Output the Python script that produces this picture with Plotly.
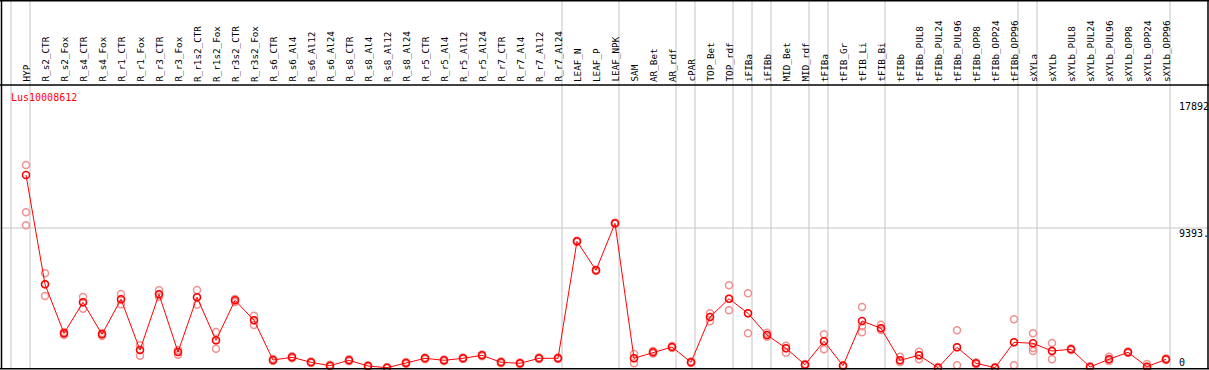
import plotly.graph_objects as go

title_text = "Lus10008612"

categories = [
    "HYP", "R_s2_CTR", "R_s2_Fox", "R_s4_CTR", "R_s4_Fox", "R_r1_CTR", "R_r1_Fox",
    "R_r3_CTR", "R_r3_Fox", "R_r1s2_CTR", "R_r1s2_Fox", "R_r3s2_CTR", "R_r3s2_Fox",
    "R_s6_CTR", "R_s6_Al4", "R_s6_Al12", "R_s6_Al24", "R_s8_CTR", "R_s8_Al4",
    "R_s8_Al12", "R_s8_Al24", "R_r5_CTR", "R_r5_Al4", "R_r5_Al12", "R_r5_Al24",
    "R_r7_CTR", "R_r7_Al4", "R_r7_Al12", "R_r7_Al24", "LEAF_N", "LEAF_P", "LEAF_NPK",
    "SAM", "AR_Bet", "AR_rdf", "cPAR", "TOP_Bet", "TOP_rdf", "iFIBa", "iFIBb",
    "MID_Bet", "MID_rdf", "tFIBa", "tFIB_Gr", "tFIB_Li", "tFIB_Bi", "tFIBb",
    "tFIBb_PUL8", "tFIBb_PUL24", "tFIBb_PUL96", "tFIBb_OPP8", "tFIBb_OPP24", "tFIBb_OPP96",
    "sXYLa", "sXYLb", "sXYLb_PUL8", "sXYLb_PUL24", "sXYLb_PUL96", "sXYLb_OPP8",
    "sXYLb_OPP24", "sXYLb_OPP96",
]

mean_values = [
    12948, 5615, 2328, 4408, 2261, 4609, 1208, 4944, 1073, 4743, 1858, 4542, 3200,
    537, 718, 382, 154, 517, 134, 20, 335, 651, 517, 651, 852, 382, 315, 651, 651,
    8500, 6555, 9708,
    651, 1053, 1409, 382, 3422, 4649, 3670, 2214, 1322, 221,
    1791, 154, 3153, 2663, 517,
    852, 20, 1389, 315, 20, 1724,
    1657, 1141, 1255, 67, 584, 1053, 87, 584,
]

rep1 = [
    13619, 6353, 2415, 4763, 2348, 4965, 1523, 5213, 1208, 5233, 2415, 4629, 3509,
    600, 780, 440, 210, 580, 190, 60, 400, 710, 570, 700, 910, 440, 370, 700, 700,
    8540, 6600, 9750,
    939, 1141, 1476, 430, 3670, 5548, 5012, 2368, 1496, 270,
    2261, 200, 4092, 2905, 758,
    1094, 60, 2529, 370, 60, 3267,
    2328, 1677, 1300, 110, 758, 1100, 268, 640,
]
rep2 = [
    10446, 5615, 2281, 4408, 2261, 4609, 1208, 4944, 1073, 4743, 1858, 4542, 3200,
    537, 718, 382, 154, 517, 134, 20, 335, 651, 517, 651, 852, 382, 315, 651, 651,
    8500, 6555, 9708,
    651, 1053, 1409, 382, 3422, 4649, 3670, 2214, 1322, 221,
    1791, 154, 2798, 2663, 517,
    852, 20, 1389, 315, 20, 1724,
    1342, 1141, 1255, 67, 584, 1053, 87, 584,
]
rep3 = [
    9574, 4830, 2214, 3978, 2147, 4274, 825, 4784, 892, 4247, 1295, 4428, 2885,
    470, 650, 330, 100, 460, 80, 0, 270, 590, 460, 600, 790, 320, 260, 600, 600,
    8460, 6510, 9660,
    315, 973, 1342, 340, 3133, 3871, 2328, 2100, 1026, 180,
    1255, 110, 2395, 2549, 403,
    584, 0, 181, 260, 0, 181,
    1141, 584, 1210, 30, 470, 1000, 0, 530,
]

# group separators drawn after these category indices
separator_after = [-1, 0, 28, 31, 34, 35, 37, 38, 39, 41, 42, 45, 52, 53, 60]
grid_value = 9393
right_labels = [("17892", 17892), ("9393.", 9393), ("0", 0)]

W, H = 1209, 370
X0_PX, STEP_PX = 26, 19          # pixel of first category, spacing
Y0_PX, YG_PX = 368, 228          # pixel of 0 and of grid_value
HEADER_PX = 85

# axis ranges so that data coordinates map to those pixels
x_range = [-X0_PX / STEP_PX, (W - X0_PX) / STEP_PX]
px_per_unit = (Y0_PX - YG_PX) / grid_value
y_min = -(H - Y0_PX) / px_per_unit
y_max = y_min + H / px_per_unit


def py(p):
    return 1 - p / H


def px(p):
    return p / W


font_family = "DejaVu Sans Mono"
idx = list(range(len(categories)))

fig = go.Figure()
rep_color = "#f09090"
for reps in (rep1, rep2, rep3):
    fig.add_trace(go.Scatter(
        x=idx, y=reps, mode="markers",
        marker=dict(symbol="circle-open", size=7, color=rep_color, line=dict(width=1.5)),
        hoverinfo="skip", showlegend=False, cliponaxis=False,
    ))
fig.add_trace(go.Scatter(
    x=idx, y=mean_values, mode="lines+markers",
    line=dict(color="#ff0000", width=1),
    marker=dict(symbol="circle-open", size=7, color="#ff0000", line=dict(width=1.5)),
    showlegend=False, cliponaxis=False,
))

shapes = []
grid_col = "#c4c4c4"
for i in separator_after:
    xs = i + 4 / STEP_PX
    shapes.append(dict(type="line", xref="x", yref="paper", x0=xs, x1=xs,
                       y0=py(Y0_PX), y1=1, line=dict(color=grid_col, width=1), layer="below"))
shapes.append(dict(type="line", xref="paper", yref="y", x0=0, x1=1,
                   y0=grid_value, y1=grid_value, line=dict(color=grid_col, width=1), layer="below"))
# black frame lines
blk = dict(color="#000000", width=1.5)
shapes.append(dict(type="line", xref="paper", yref="paper", x0=0, x1=1, y0=py(0.7), y1=py(0.7), line=blk))
shapes.append(dict(type="line", xref="paper", yref="paper", x0=0, x1=1, y0=py(HEADER_PX), y1=py(HEADER_PX), line=blk))
shapes.append(dict(type="line", xref="paper", yref="paper", x0=0, x1=1, y0=py(368.7), y1=py(368.7), line=blk))
shapes.append(dict(type="line", xref="paper", yref="paper", x0=px(1.5), x1=px(1.5), y0=py(368.7), y1=py(0), line=blk))
shapes.append(dict(type="line", xref="paper", yref="paper", x0=px(1208), x1=px(1208), y0=py(368.7), y1=py(0), line=blk))

annotations = []
for i, c in enumerate(categories):
    annotations.append(dict(
        x=i, y=py(83), xref="x", yref="paper", text=c, textangle=-90,
        xanchor="center", yanchor="bottom", showarrow=False, borderpad=0,
        font=dict(family=font_family, size=9.3, color="#000000"),
    ))
annotations.append(dict(
    x=px(9), y=py(97), xref="paper", yref="paper", text=title_text,
    xanchor="left", yanchor="middle", showarrow=False,
    font=dict(family=font_family, size=10, color="#ff0000"),
))
for lab, val in right_labels:
    ypix = Y0_PX - val * px_per_unit
    ypix = ypix + 5 if val > 0 else ypix - 6
    annotations.append(dict(
        x=px(1177), y=py(ypix), xref="paper", yref="paper", text=lab,
        xanchor="left", yanchor="middle", showarrow=False,
        font=dict(family=font_family, size=10, color="#000000"),
    ))

fig.update_layout(
    width=W, height=H,
    margin=dict(l=0, r=0, t=0, b=0, pad=0),
    paper_bgcolor="#ffffff", plot_bgcolor="#ffffff",
    xaxis=dict(range=x_range, visible=False, showgrid=False, zeroline=False, fixedrange=True),
    yaxis=dict(range=[y_min, y_max], visible=False, showgrid=False, zeroline=False, fixedrange=True),
    shapes=shapes, annotations=annotations,
)

fig.write_html(
    "out.html",
    config={"displayModeBar": False},
    post_script="document.body.style.margin='0';document.body.style.overflow='hidden';",
)
